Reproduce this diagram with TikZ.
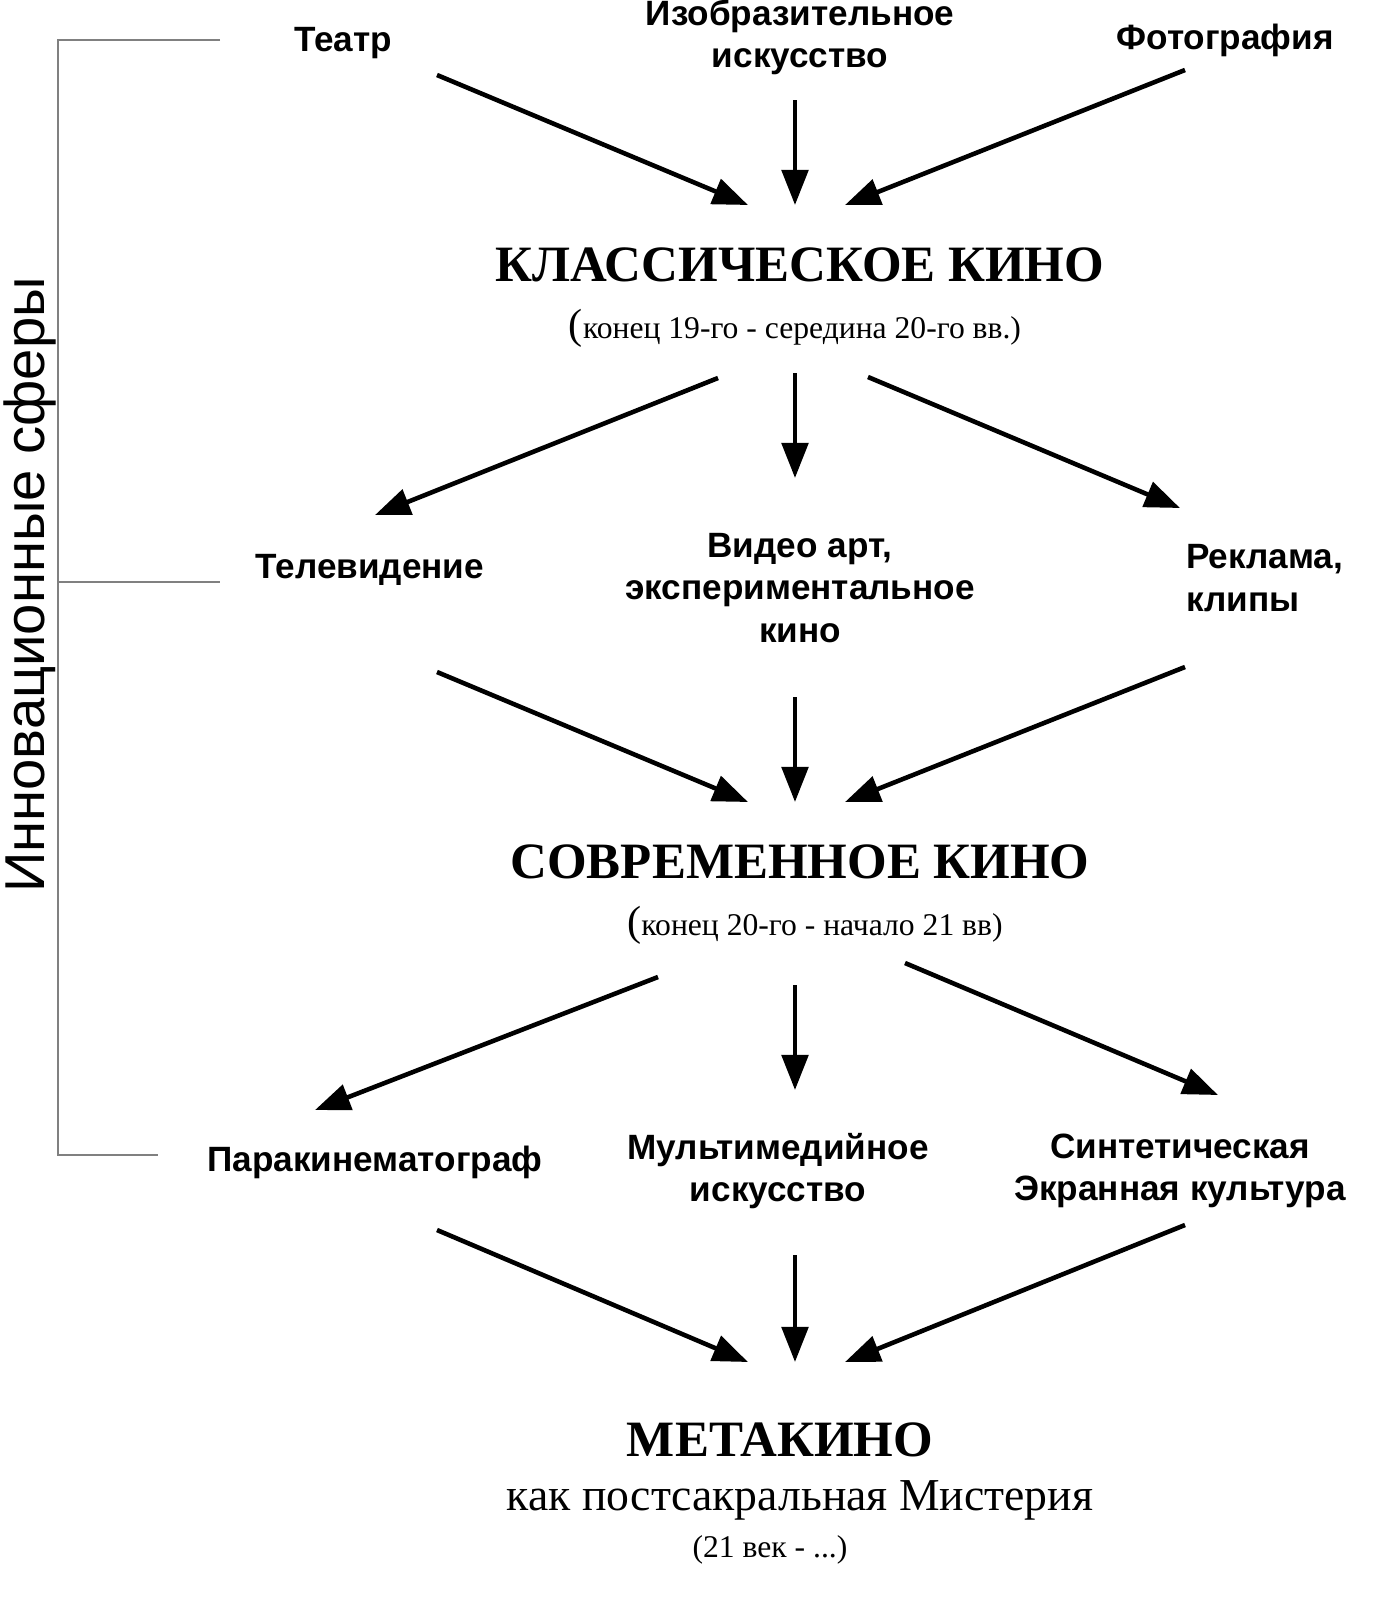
\documentclass[tikz,border=0pt]{standalone}
\usepackage{fontspec}
\setmainfont{Liberation Serif}
\setsansfont{Liberation Sans}
\usetikzlibrary{arrows.meta}
\usetikzlibrary{positioning}
\tikzset{
	src/.style={font=\sffamily\bfseries\fontsize{20}{24}\selectfont,align=center},
	head/.style={font=\rmfamily\bfseries\fontsize{29}{32}\selectfont},
	sub/.style={font=\rmfamily\fontsize{18}{21}\selectfont},
	flow/.style={-{Triangle[length=20pt,width=15pt]},line width=2.6pt},
	brace/.style={gray,line width=0.6pt}
}
\begin{document}
\begin{tikzpicture}[x=0.02cm,y=-0.02cm]
		\useasboundingbox (0,0) rectangle (1387,1600);
		% sources
		\node [src] (teatr) at (343,43) {Театр};
		\node [src] (izo) at (800,37) {Изобразительное\\искусство};
		\node [src] (foto) at (1225,40) {Фотография};
		\node [head] (klass) at (800,265) {КЛАССИЧЕСКОЕ КИНО};
		\node [sub] (klass-sub) at (795,328) {{\fontsize{24}{26}\selectfont(}конец 19-го - середина 20-го вв.)};
		% branches
		\node [src] (tv) at (370,570) {Телевидение};
		\node [src] (video) at (800,588) {Видео арт,\\экспериментальное\\кино};
		\node [src,align=left,anchor=west] (reklama) at (1180,578) {Реклама,\\клипы};
		\node [head] (sovr) at (800,862) {СОВРЕМЕННОЕ КИНО};
		\node [sub] (sovr-sub) at (815,925) {{\fontsize{24}{26}\selectfont(}конец 20-го - начало 21 вв)};
		\node [src] (para) at (375,1162) {Паракинематограф};
		\node [src] (multi) at (778,1171) {Мультимедийное\\искусство};
		\node [src] (sint) at (1180,1171) {Синтетическая\\Экранная культура};
		\node [head] (meta) at (780,1440) {МЕТАКИНО};
		\node [sub,font=\rmfamily\fontsize{26}{30}\selectfont] (meta-sub) at (800,1500) {как постсакральная Мистерия};
		\node [sub] (meta-date) at (770,1550) {(21 век - ...)};

		\foreach \ya/\yb/\n in {75/205/a,672/802/b,1230/1362/c}{
			\coordinate (l\n) at (437,\ya);
			\coordinate (lt\n) at (748,\yb);
			\coordinate (m\n) at (795,\ya+25);
			\coordinate (mt\n) at (795,\yb);
			\coordinate (r\n) at (1185,\ya-5);
			\coordinate (rt\n) at (845,\yb);
			\draw [flow] (l\n) -- (lt\n);
			\draw [flow] (m\n) -- (mt\n);
			\draw [flow] (r\n) -- (rt\n);
		}
		\draw [flow] (718,378) -- (375,515);
		\draw [flow] (795,373) -- (795,478);
		\draw [flow] (868,377) -- (1180,508);
		\draw [flow] (658,977) -- (315,1110);
		\draw [flow] (795,985) -- (795,1090);
		\draw [flow] (905,963) -- (1218,1095);

		% bracket
		\draw [brace] (220,40) -- (58,40) -- (58,1155) -- (158,1155);
		\draw [brace] (58,582) -- (220,582);
		\node [rotate=90,inner sep=0pt,font=\sffamily\fontsize{32}{34}\selectfont] (innov) at (30,585) {Инновационные сферы};
	\end{tikzpicture}
\end{document}
